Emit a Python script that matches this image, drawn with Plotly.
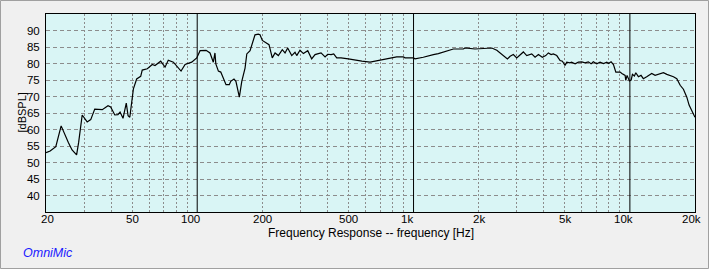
import plotly.graph_objects as go
import math

# ---- data ----
freq_hz = [20, 20.9, 22.2, 23.5, 25.4, 26.4, 27.7, 28.3, 29.4, 31.0, 32.2, 33.6, 36.4, 38.7, 39.8,
           41.6, 43.0, 44.0, 45.4, 47.0, 47.9, 48.8, 50.7, 52.5, 54.8, 55.7, 58.8, 62.0, 63.8, 67.8,
           71.0, 73.5, 77.6, 84.2, 87.9, 94.3, 99.5, 103.1, 109.9, 114.6, 118.7, 120.8, 121.9, 125.3,
           128.5, 135.9, 140.7, 142.9, 147.9, 151.0, 156.6, 160.7, 166.4, 169.5, 175.5, 178.6, 185.0,
           191.5, 195.1, 200, 209.4, 214.7, 222.3, 229.0, 237.2, 247.3, 254.7, 261.9, 273.5, 283.2,
           288.4, 298.6, 309.6, 324.3, 338.1, 350.6, 363.1, 373.6, 390.0, 400.9, 415.9, 427.6, 441.5,
           462.3, 499.7, 537.0, 577.0, 629.5, 687.5, 724.8, 778.2, 836.0, 897.0, 913.9, 997.7, 1016,
           1109, 1170, 1235, 1302, 1374, 1425, 1476, 1528, 1699, 1730, 1923, 2142, 2300, 2426, 2559,
           2717, 2795, 2892, 3000, 3083, 3218, 3336, 3518, 3646, 3778, 3939, 4085, 4199, 4325, 4428,
           4592, 4758, 4876, 5015, 5106, 5285, 5375, 5582, 5781, 5994, 6205, 6424, 6617, 6774, 7029,
           7280, 7555, 7822, 7962, 8187, 8397, 8611, 9016, 9185, 9507, 9573, 9706, 9949, 10137, 10277,
           10493, 10650, 10950, 11260, 11540, 11960, 12270, 12620, 13080, 13800, 14290, 14820, 15350,
           15900, 16480, 17080, 17680, 18330, 18780, 19330, 19800, 20000]
spl_db = [53.0, 53.5, 54.8, 61.1, 56.0, 53.8, 52.3, 56.0, 64.4, 62.3, 63.0, 66.2, 66.0, 67.2, 66.8,
          64.4, 64.5, 65.3, 63.4, 68.0, 64.2, 63.7, 72.3, 75.3, 76.1, 78.0, 78.4, 79.7, 79.4, 80.7,
          78.9, 81.0, 80.4, 77.7, 79.7, 80.4, 81.7, 83.9, 84.0, 83.2, 80.4, 83.2, 79.9, 77.7,
          77.4, 73.6, 73.6, 74.6, 75.3, 74.6, 69.8, 74.6, 78.6, 82.9, 83.9, 85.7, 88.7,
          88.9, 88.7, 87.0, 86.0, 85.7, 81.7, 83.2, 82.4, 84.2, 83.2, 84.7, 82.4, 83.4,
          82.4, 84.0, 83.0, 83.9, 81.4, 82.7, 83.0, 83.2, 82.0, 82.8, 82.7, 82.9, 81.7,
          81.7, 81.4, 81.0, 80.7, 80.4, 80.9, 81.4, 81.7, 82.0, 82.0, 81.7, 81.7, 81.4,
          81.9, 82.4, 82.7, 83.0, 83.5, 83.9, 84.2, 84.4, 84.4, 84.7, 84.4, 84.5, 84.7, 84.0, 82.9,
          81.4, 82.2, 82.7, 81.7, 82.4, 83.5, 82.4, 82.9, 81.9, 82.7, 81.9, 82.4, 83.2, 82.7, 82.9,
          82.4, 80.9, 80.7, 79.4, 80.4, 80.2, 80.4, 79.9, 80.4, 80.5, 80.2, 80.5, 79.9, 80.5, 79.9,
          80.4, 80.0, 80.4, 80.0, 80.5, 79.7, 77.4, 77.4, 77.0, 76.4, 74.9, 76.4, 74.7, 75.0, 76.7,
          76.2, 77.2, 76.0, 76.4, 75.4, 76.0, 76.4, 77.0, 76.4, 77.0, 77.2, 76.7, 76.4,
          76.0, 75.4, 73.4, 72.2, 69.8, 67.4, 65.6, 64.2, 63.7]

x_label_vals = [20, 50, 100, 200, 500, 1000, 2000, 5000, 10000, 20000]
x_label_text = ["20", "50", "100", "200", "500", "1k", "2k", "5k", "10k", "20k"]
x_label_shift = [1.5, 0, -7, 0, 0, -6.5, 0, 0, -6, -4]
x_grid_vals = [30, 40, 50, 60, 70, 80, 90, 200, 300, 400, 500, 600, 700, 800, 900,
               2000, 3000, 4000, 5000, 6000, 7000, 8000, 9000]
x_decade_vals = [100, 1000, 10000]
y_tick_vals = [40, 45, 50, 55, 60, 65, 70, 75, 80, 85, 90]

TICK_FONT = dict(family="Liberation Sans Narrow, Arial Narrow, Liberation Sans, Arial", size=11.5, color="#000000")

W, H = 709, 269
ML, MR, MT, MB = 46, 14, 14, 57
PW, PH = W - ML - MR, H - MT - MB

fig = go.Figure()
fig.add_trace(go.Scatter(x=freq_hz, y=spl_db, mode="lines",
                         line=dict(color="#000000", width=1.2), hoverinfo="skip"))

fig.update_layout(
    width=W, height=H,
    margin=dict(l=ML, r=MR, t=MT, b=MB, pad=0),
    paper_bgcolor="#f0f0f0",
    plot_bgcolor="#d9f5f5",
    showlegend=False,
    xaxis=dict(type="log", range=[math.log10(20), math.log10(20000)],
               tickmode="array", tickvals=x_grid_vals, showticklabels=False,
               showgrid=True, gridcolor="#8c8c8c", griddash="2px,2px", gridwidth=1,
               showline=True, linecolor="#000000", linewidth=1, mirror=True,
               ticks="", zeroline=False),
    yaxis=dict(range=[35, 95], tickmode="array", tickvals=y_tick_vals,
               tickfont=TICK_FONT, ticks="", ticklabelstandoff=3,
               showgrid=True, gridcolor="#8c8c8c", griddash="4px,3px", gridwidth=1,
               showline=True, linecolor="#000000", linewidth=1, mirror=True,
               zeroline=False),
)

# black decade lines
for v in x_decade_vals:
    fig.add_shape(type="line", xref="x", yref="paper", x0=v, x1=v, y0=0, y1=1,
                  line=dict(color="#000000", width=1), layer="above")

# x tick labels
for v, t, s in zip(x_label_vals, x_label_text, x_label_shift):
    fig.add_annotation(x=math.log10(v), xref="x", y=0, yref="paper", yshift=-6.5,
                       text=t, showarrow=False, xanchor="center", yanchor="middle",
                       xshift=s, font=TICK_FONT)

# axis titles
fig.add_annotation(x=0.5, xref="paper", y=0, yref="paper", yshift=-20.5,
                   text="Frequency Response -- frequency [Hz]", showarrow=False,
                   xanchor="center", yanchor="middle",
                   font=dict(family="Liberation Sans, Arial", size=12, color="#000000"))
fig.add_annotation(x=0, xref="paper", xshift=-24.5, y=0.5, yref="paper",
                   text="[dBSPL]", textangle=-90, showarrow=False,
                   xanchor="center", yanchor="middle",
                   font=dict(family="Liberation Sans, Arial", size=11, color="#000000"))
# logo text
fig.add_annotation(x=(20.5 - ML) / PW, xref="paper", y=(MT + PH - 253) / PH, yref="paper",
                   text="<i>OmniMic</i>", showarrow=False, xanchor="left", yanchor="middle",
                   font=dict(family="Liberation Sans, Arial", size=12.5, color="#1a1aff"))

# outer frame
fig.add_shape(type="rect", xref="paper", yref="paper",
              x0=(0.5 - ML) / PW, x1=(W - 0.5 - ML) / PW,
              y0=(MT + PH - (H - 0.5)) / PH, y1=(MT + PH - 0.5) / PH,
              line=dict(color="#a0a0a0", width=1), fillcolor="rgba(0,0,0,0)", layer="below")

fig.write_html("out.html")
